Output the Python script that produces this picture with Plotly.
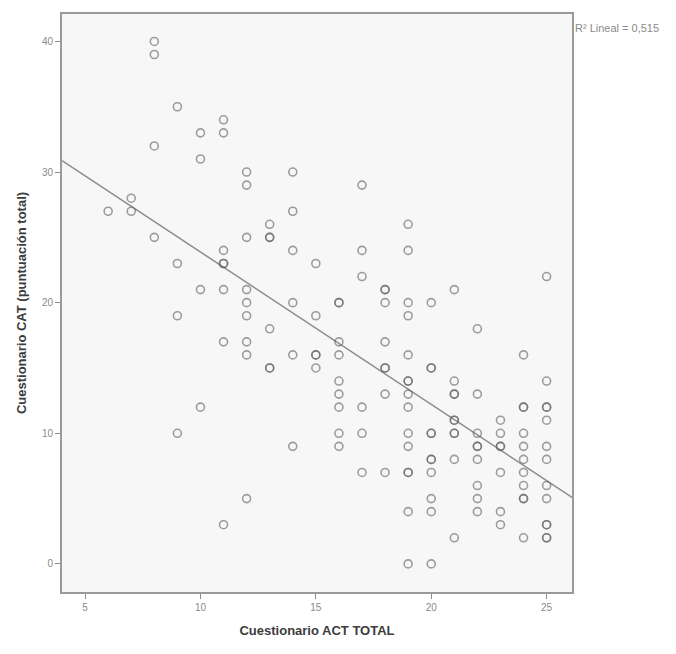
import numpy as np
import plotly.graph_objects as go

# Cuestionario ACT TOTAL (x) and CAT total score (y), one entry per subject
act_total = (
    [6] * 1 + [7] * 2 + [8] * 4 + [9] * 4 + [10] * 4 + [11] * 8 + [12] * 9 +
    [13] * 6 + [14] * 6 + [15] * 5 + [16] * 9 + [17] * 6 + [18] * 8 +
    [19] * 15 + [20] * 11 + [21] * 10 + [22] * 9 + [23] * 7 + [24] * 11 + [25] * 13
)
cat_total = (
    [27] +
    [28, 27] +
    [40, 39, 32, 25] +
    [35, 23, 19, 10] +
    [33, 31, 21, 12] +
    [34, 33, 24, 23, 23, 21, 17, 3] +
    [30, 29, 25, 21, 20, 19, 17, 16, 5] +
    [26, 25, 25, 18, 15, 15] +
    [30, 27, 24, 20, 16, 9] +
    [23, 19, 16, 16, 15] +
    [20, 20, 17, 16, 14, 13, 12, 10, 9] +
    [29, 24, 22, 12, 10, 7] +
    [21, 21, 20, 17, 15, 15, 13, 7] +
    [26, 24, 20, 19, 16, 14, 14, 13, 12, 10, 9, 7, 7, 4, 0] +
    [20, 15, 15, 10, 10, 8, 8, 7, 5, 4, 0] +
    [21, 14, 13, 13, 11, 11, 10, 10, 8, 2] +
    [18, 13, 10, 9, 9, 8, 6, 5, 4] +
    [11, 10, 9, 9, 7, 4, 3] +
    [16, 12, 12, 10, 9, 8, 7, 6, 5, 5, 2] +
    [22, 14, 12, 12, 11, 9, 8, 6, 5, 3, 3, 2, 2]
)
x_ticks = [5, 10, 15, 20, 25]
y_ticks = [0, 10, 20, 30, 40]
r2_label = "R² Lineal = 0,515"

x_range = [4.0, 26.1]
y_range = [-2.15, 42.1]

slope, intercept = np.polyfit(act_total, cat_total, 1)
line_x = np.array(x_range)
line_y = intercept + slope * line_x

fig = go.Figure()
fig.add_trace(go.Scatter(
    x=line_x, y=line_y, mode="lines",
    line=dict(color="#8c8c8c", width=1.5), hoverinfo="skip", showlegend=False,
))
fig.add_trace(go.Scatter(
    x=act_total, y=cat_total, mode="markers",
    marker=dict(symbol="circle-open", size=8, color="rgba(95,95,95,0.6)",
                line=dict(width=1.6, color="rgba(95,95,95,0.6)")),
    showlegend=False,
))

axis_common = dict(
    showgrid=False, zeroline=False, showline=True, linecolor="#9a9a9a", linewidth=2,
    mirror=True, ticks="outside", ticklen=5, tickcolor="#8a8a8a", tickwidth=1,
    tickfont=dict(family="Liberation Sans, Arial", size=10, color="#8a8a8a"),
)
fig.update_xaxes(range=x_range, tickvals=x_ticks, **axis_common,
                 title=dict(text="<b>Cuestionario ACT TOTAL</b>", standoff=14,
                            font=dict(family="Liberation Sans, Arial", size=13, color="#3c3c3c")))
fig.update_yaxes(range=y_range, tickvals=y_ticks, **axis_common,
                 title=dict(text="<b>Cuestionario CAT (puntuación total)</b>", standoff=12,
                            font=dict(family="Liberation Sans, Arial", size=13, color="#3c3c3c")))

fig.add_annotation(
    text=r2_label, xref="paper", yref="paper", x=1.0, y=1.0, xanchor="left", yanchor="top",
    xshift=1, yshift=-6, showarrow=False,
    font=dict(family="Liberation Sans, Arial", size=11, color="#8a8a8a"),
)

fig.update_layout(
    width=676, height=654,
    margin=dict(l=54, r=112, t=4, b=70),
    paper_bgcolor="white", plot_bgcolor="#f7f7f7",
)
fig.write_html("out.html")
